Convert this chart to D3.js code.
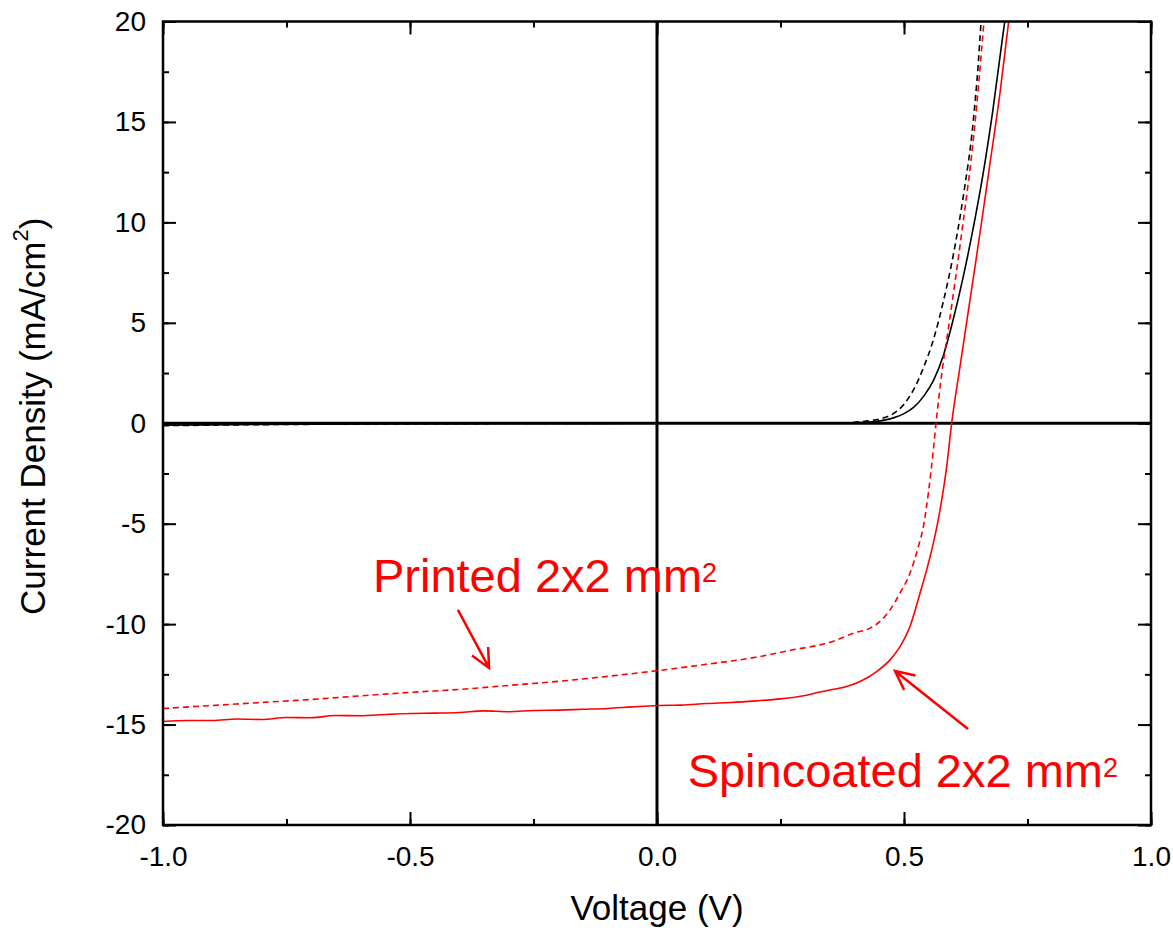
<!DOCTYPE html>
<html><head><meta charset="utf-8">
<script src="https://cdn.jsdelivr.net/npm/d3@7"></script>
<style>body{margin:0;background:#fff;} text{font-family:"Liberation Sans",Arial,sans-serif;}</style>
</head><body>
<svg id="chart" width="1173" height="933"></svg>
<script>
// ---------- data ----------
const xTicks = [-1.0, -0.5, 0.0, 0.5, 1.0];
const xTickLabels = ["-1.0", "-0.5", "0.0", "0.5", "1.0"];
const yTicks = [-20, -15, -10, -5, 0, 5, 10, 15, 20];
const yTickLabels = ["-20", "-15", "-10", "-5", "0", "5", "10", "15", "20"];

// Spincoated, illuminated (red solid)
const spinLightV = [-1,-0.95,-0.9,-0.85,-0.8,-0.75,-0.7,-0.65,-0.6,-0.55,-0.5,-0.45,-0.4,-0.35,-0.3,-0.25,-0.2,-0.15,-0.1,-0.05,0,0.05,0.1,0.15,0.2,0.25,0.3,0.33,0.35,0.384,0.411,0.4447,0.4717,0.4919,0.5121,0.5324,0.5459,0.5594,0.5729,0.5864,0.5965,0.6134,0.6336,0.6538,0.6741,0.6943,0.7119];
const spinLightJ = [-14.85,-14.8,-14.8,-14.72,-14.75,-14.65,-14.66,-14.55,-14.56,-14.5,-14.45,-14.43,-14.4,-14.32,-14.36,-14.3,-14.28,-14.24,-14.2,-14.12,-14.05,-14.03,-13.95,-13.9,-13.82,-13.72,-13.55,-13.38,-13.28,-13.11,-12.86,-12.36,-11.78,-11.12,-10.12,-8.46,-7.3,-5.97,-4.32,-2.16,0,2.82,6.14,9.46,12.94,16.43,20];

// Printed, illuminated (red dashed)
const printLightV = [-1,-0.9,-0.8,-0.7,-0.6,-0.5,-0.4,-0.3,-0.2,-0.1,0,0.1,0.2,0.275,0.33,0.3637,0.3974,0.4312,0.4548,0.4717,0.4919,0.5121,0.5291,0.5392,0.5493,0.5594,0.5648,0.5783,0.5884,0.6167,0.6417,0.6619];
const printLightJ = [-14.2,-14.05,-13.9,-13.75,-13.57,-13.4,-13.25,-13.05,-12.85,-12.6,-12.32,-12.0,-11.65,-11.28,-11.03,-10.79,-10.45,-10.2,-9.79,-9.29,-8.46,-7.47,-6.14,-5.15,-3.48,-1.33,0,2.82,4.48,9.46,14.44,20];

// Spincoated, dark (black solid)
const spinDarkV = [-1,-0.8,-0.6,-0.4,-0.2,0,0.2,0.4,0.44,0.48,0.5,0.52,0.54,0.56,0.58,0.6,0.62,0.64,0.66,0.68,0.7,0.704];
const spinDarkJ = [-0.1,-0.06,-0.03,-0.02,-0.01,0,0,0.02,0.08,0.28,0.48,0.8,1.35,2.15,3.4,5.2,7.3,9.7,12.4,15.6,19.3,20];

// Printed, dark (black dashed)
const printDarkV = [-1,-0.8,-0.6,-0.4,-0.2,0,0.2,0.38,0.42,0.46,0.48,0.5,0.52,0.54,0.56,0.58,0.6,0.62,0.64,0.65,0.656];
const printDarkJ = [-0.12,-0.07,-0.04,-0.02,-0.01,0,0,0.02,0.1,0.28,0.5,0.95,1.7,2.8,4.2,6.1,8.4,11.3,15.0,17.8,20];

// ---------- layout ----------
const svg = d3.select("#chart");
const L = 163, R = 1151, T = 21.5, B = 825;
const x = d3.scaleLinear().domain([-1, 1]).range([L, R]);
const y = d3.scaleLinear().domain([-20, 20]).range([B, T]);
const red = "#ff0000";

svg.append("defs").append("clipPath").attr("id", "clip")
  .append("rect").attr("x", L).attr("y", T).attr("width", R - L).attr("height", B - T);

// zero lines
svg.append("line").attr("x1", x(0)).attr("x2", x(0)).attr("y1", T).attr("y2", B)
  .attr("stroke", "#000").attr("stroke-width", 3);
svg.append("line").attr("x1", L).attr("x2", R).attr("y1", y(0)).attr("y2", y(0))
  .attr("stroke", "#000").attr("stroke-width", 3);

// curves
const line = d3.line().curve(d3.curveMonotoneX).x(d => x(d[0])).y(d => y(d[1]));
const g = svg.append("g").attr("clip-path", "url(#clip)");
function curve(V, J, color, dash) {
  g.append("path").datum(V.map((v, i) => [v, J[i]]))
    .attr("d", line).attr("fill", "none").attr("stroke", color)
    .attr("stroke-width", 1.6).attr("stroke-dasharray", dash || null);
}
curve(printDarkV, printDarkJ, "#000", "6,4");
curve(spinDarkV, spinDarkJ, "#000", null);
curve(printLightV, printLightJ, red, "6,4");
curve(spinLightV, spinLightJ, red, null);

// axes (ticks inward on all sides)
const xMinor = d3.range(-1, 1.001, 0.25);
const yMinor = d3.range(-20, 20.001, 2.5);
function styleAxis(sel) {
  sel.select(".domain").remove();
  sel.selectAll(".tick line").attr("stroke", "#000").attr("stroke-width", 2);
  sel.selectAll("text").attr("font-size", 28).attr("fill", "#000")
    .style("font-family", '"Liberation Sans", Arial, sans-serif');
}
// bottom
svg.append("g").attr("transform", `translate(0,${B})`)
  .call(d3.axisBottom(x).tickValues(xMinor).tickSize(-6).tickFormat(""))
  .call(styleAxis);
svg.append("g").attr("transform", `translate(0,${B})`)
  .call(d3.axisBottom(x).tickValues(xTicks).tickSize(-13).tickPadding(21)
    .tickFormat((d, i) => xTickLabels[i]))
  .call(styleAxis);
// top
svg.append("g").attr("transform", `translate(0,${T})`)
  .call(d3.axisTop(x).tickValues(xMinor).tickSize(-6).tickFormat(""))
  .call(styleAxis);
svg.append("g").attr("transform", `translate(0,${T})`)
  .call(d3.axisTop(x).tickValues(xTicks).tickSize(-13).tickFormat(""))
  .call(styleAxis);
// left
svg.append("g").attr("transform", `translate(${L},0)`)
  .call(d3.axisLeft(y).tickValues(yMinor).tickSize(-6).tickFormat(""))
  .call(styleAxis);
svg.append("g").attr("transform", `translate(${L},0)`)
  .call(d3.axisLeft(y).tickValues(yTicks).tickSize(-13).tickPadding(17)
    .tickFormat((d, i) => yTickLabels[i]))
  .call(styleAxis);
// right
svg.append("g").attr("transform", `translate(${R},0)`)
  .call(d3.axisRight(y).tickValues(yMinor).tickSize(-6).tickFormat(""))
  .call(styleAxis);
svg.append("g").attr("transform", `translate(${R},0)`)
  .call(d3.axisRight(y).tickValues(yTicks).tickSize(-13).tickFormat(""))
  .call(styleAxis);

// frame
svg.append("rect").attr("x", L).attr("y", T).attr("width", R - L).attr("height", B - T)
  .attr("fill", "none").attr("stroke", "#000").attr("stroke-width", 2.5);

// axis titles
svg.append("text").attr("x", x(0)).attr("y", 920).attr("text-anchor", "middle")
  .attr("font-size", 35).attr("fill", "#000").text("Voltage (V)");
const yl = svg.append("text").attr("transform", `translate(45,${(T + B) / 2 - 7}) rotate(-90)`)
  .attr("text-anchor", "middle").attr("font-size", 35).attr("fill", "#000");
yl.append("tspan").text("Current Density (mA/cm");
yl.append("tspan").attr("font-size", 22).attr("dy", -17).text("2");
yl.append("tspan").attr("dy", 17).text(")");

// annotations
function annot(text, vx, jy) {
  const t = svg.append("text").attr("x", x(vx)).attr("y", y(jy))
    .attr("font-size", 47).attr("fill", red);
  t.append("tspan").text(text);
  t.append("tspan").attr("font-size", 27).attr("dy", -10).text("2");
}
annot("Printed 2x2 mm", -0.575, -8.4);
annot("Spincoated 2x2 mm", 0.062, -18.1);

function arrow(v0, j0, v1, j1) {
  const x0 = x(v0), y0 = y(j0), x1 = x(v1), y1 = y(j1);
  const a = Math.atan2(y1 - y0, x1 - x0), len = 21, spread = 0.45;
  const p = d3.path();
  p.moveTo(x0, y0); p.lineTo(x1, y1);
  p.moveTo(x1 - len * Math.cos(a - spread), y1 - len * Math.sin(a - spread));
  p.lineTo(x1, y1);
  p.lineTo(x1 - len * Math.cos(a + spread), y1 - len * Math.sin(a + spread));
  svg.append("path").attr("d", p.toString()).attr("fill", "none")
    .attr("stroke", red).attr("stroke-width", 2.5);
}
arrow(-0.403, -9.29, -0.340, -12.18);
arrow(0.6296, -15.22, 0.4818, -12.33);
</script>
</body></html>
